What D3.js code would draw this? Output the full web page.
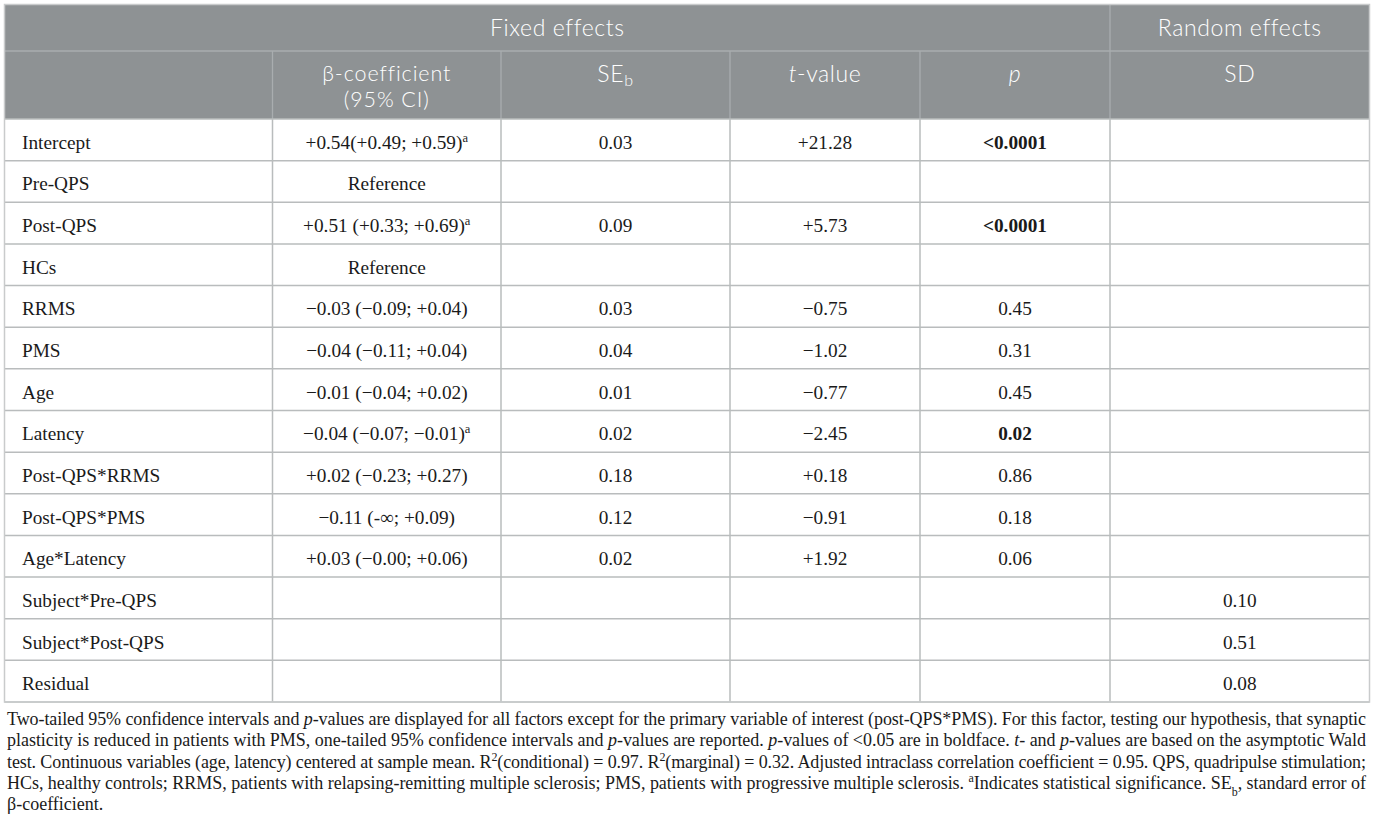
<!DOCTYPE html>
<html>
<head>
<meta charset="utf-8">
<script src="https://cdn.jsdelivr.net/npm/d3@7"></script>
<style>
body { margin: 0; background: #fff; }
svg { display: block; }
</style>
</head>
<body>
<svg id="tbl"></svg>
<script>
'use strict';

// Table content, row by row
var factors = ["Intercept", "Pre-QPS", "Post-QPS", "HCs", "RRMS", "PMS", "Age", "Latency",
    "Post-QPS*RRMS", "Post-QPS*PMS", "Age*Latency", "Subject*Pre-QPS", "Subject*Post-QPS", "Residual"];
var beta_ci = ["+0.54(+0.49; +0.59)", "Reference", "+0.51 (+0.33; +0.69)", "Reference",
    "\u22120.03 (\u22120.09; +0.04)", "\u22120.04 (\u22120.11; +0.04)", "\u22120.01 (\u22120.04; +0.02)",
    "\u22120.04 (\u22120.07; \u22120.01)", "+0.02 (\u22120.23; +0.27)", "\u22120.11 (-\u221e; +0.09)",
    "+0.03 (\u22120.00; +0.06)", "", "", ""];
var beta_significant = [true, false, true, false, false, false, false, true, false, false, false, false, false, false];
var se_b = ["0.03", "", "0.09", "", "0.03", "0.04", "0.01", "0.02", "0.18", "0.12", "0.02", "", "", ""];
var t_values = ["+21.28", "", "+5.73", "", "\u22120.75", "\u22121.02", "\u22120.77", "\u22122.45",
    "+0.18", "\u22120.91", "+1.92", "", "", ""];
var p_values = ["<0.0001", "", "<0.0001", "", "0.45", "0.31", "0.45", "0.02", "0.86", "0.18", "0.06", "", "", ""];
var p_bold = [true, false, true, false, false, false, false, true, false, false, false, false, false, false];
var random_sd = ["", "", "", "", "", "", "", "", "", "", "", "0.10", "0.51", "0.08"];

// Layout
var W = 1375, H = 834;
var col_edges = [4.5, 272.5, 501, 730, 920, 1110, 1369.5];
var head_top = 4.5, head_mid = 51, head_bottom = 119, body_bottom = 702;

var colors = {
    header_bg: "#8e9294",
    header_line: "#a9adaf",
    grid: "#b9bcbd",
    border: "#c9cbcc",
    header_text: "#ffffff",
    body_text: "#1a1a1a",
};

var sans = "Lato, 'Open Sans', sans-serif";
var serif = "'Liberation Serif', 'DejaVu Serif', serif";

var svg = d3.select("#tbl").attr("width", W).attr("height", H);

var y = d3.scaleBand()
          .domain(d3.range(factors.length))
          .range([head_bottom, body_bottom]);

function col_center(i) {
    return (col_edges[i] + col_edges[i + 1]) / 2;
}

// Header background
svg.append("rect")
   .attr("x", col_edges[0]).attr("y", head_top)
   .attr("width", col_edges[6] - col_edges[0])
   .attr("height", head_bottom - head_top)
   .attr("fill", colors.header_bg);

// Header lines
svg.append("line")
   .attr("x1", col_edges[0]).attr("x2", col_edges[6])
   .attr("y1", head_mid).attr("y2", head_mid)
   .attr("stroke", colors.header_line).attr("stroke-width", 1.3);
for (var i = 1; i < 6; i++) {
    svg.append("line")
       .attr("x1", col_edges[i]).attr("x2", col_edges[i])
       .attr("y1", i == 5 ? head_top : head_mid).attr("y2", head_bottom)
       .attr("stroke", colors.header_line).attr("stroke-width", 1.3);
}

// Body grid
svg.selectAll("line.row")
   .data(d3.range(factors.length + 1))
   .join("line")
   .attr("class", "row")
   .attr("x1", col_edges[0]).attr("x2", col_edges[6])
   .attr("y1", d => d < factors.length ? y(d) : body_bottom)
   .attr("y2", d => d < factors.length ? y(d) : body_bottom)
   .attr("stroke", colors.grid).attr("stroke-width", 1.5);

svg.selectAll("line.col")
   .data(col_edges.slice(1, 6))
   .join("line")
   .attr("class", "col")
   .attr("x1", d => d).attr("x2", d => d)
   .attr("y1", head_bottom).attr("y2", body_bottom)
   .attr("stroke", colors.grid).attr("stroke-width", 1.5);

// Outer border
svg.append("rect")
   .attr("x", col_edges[0]).attr("y", head_top)
   .attr("width", col_edges[6] - col_edges[0])
   .attr("height", body_bottom - head_top)
   .attr("fill", "none")
   .attr("stroke", colors.border).attr("stroke-width", 1.5);

// Header text
var head = svg.append("g")
              .attr("font-family", sans)
              .attr("font-size", 23)
              .attr("font-weight", 300)
              .attr("letter-spacing", 0.6)
              .attr("fill", colors.header_text)
              .attr("text-anchor", "middle");

head.append("text").attr("x", (col_edges[0] + col_edges[5]) / 2).attr("y", 36).text("Fixed effects");
head.append("text").attr("x", col_center(5)).attr("y", 36).text("Random effects");

// two-line header kept in one text element
var beta_head = head.append("text").attr("x", col_center(1)).attr("y", 81)
                    .attr("font-size", 21.5).attr("letter-spacing", 0.9);
beta_head.append("tspan").attr("x", col_center(1)).text("\u03b2-coefficient");
beta_head.append("tspan").attr("x", col_center(1)).attr("dy", 26).text("(95% CI)");

var se_head = head.append("text").attr("x", col_center(2)).attr("y", 82);
se_head.append("tspan").text("SE");
se_head.append("tspan").attr("font-size", 16).attr("baseline-shift", "-25%").text("b");

var t_head = head.append("text").attr("x", col_center(3)).attr("y", 82);
t_head.append("tspan").attr("font-style", "italic").text("t");
t_head.append("tspan").text("-value");

head.append("text").attr("x", col_center(4)).attr("y", 82)
    .attr("font-style", "italic").text("p");
head.append("text").attr("x", col_center(5)).attr("y", 82).text("SD");

// Body text
var body = svg.append("g")
              .attr("font-family", serif)
              .attr("font-size", 19.3)
              .attr("fill", colors.body_text);

var rows = body.selectAll("g.r")
               .data(factors.map((f, i) => i))
               .join("g")
               .attr("class", "r")
               .attr("transform", i => "translate(0," + (y(i) + y.bandwidth() / 2 + 9) + ")");

rows.append("text")
    .attr("x", 22)
    .text(i => factors[i]);

var beta_text = rows.append("text")
    .attr("x", col_center(1))
    .attr("text-anchor", "middle");
beta_text.append("tspan").text(i => beta_ci[i]);
beta_text.filter(i => beta_significant[i])
    .append("tspan")
    .attr("font-size", 12.5)
    .attr("baseline-shift", "super")
    .text("a");

rows.append("text")
    .attr("x", col_center(2))
    .attr("text-anchor", "middle")
    .text(i => se_b[i]);

rows.append("text")
    .attr("x", col_center(3))
    .attr("text-anchor", "middle")
    .text(i => t_values[i]);

rows.append("text")
    .attr("x", col_center(4))
    .attr("text-anchor", "middle")
    .attr("font-weight", i => p_bold[i] ? "bold" : "normal")
    .text(i => p_values[i]);

rows.append("text")
    .attr("x", col_center(5))
    .attr("text-anchor", "middle")
    .text(i => random_sd[i]);

// Footnote, one array of text pieces per line: [text, style]
var footnote_lines = [
    [["Two-tailed 95% confidence intervals and "], ["p", "i"], ["-values are displayed for all factors except for the primary variable of interest (post-QPS*PMS). For this factor, testing our hypothesis, that synaptic"]],
    [["plasticity is reduced in patients with PMS, one-tailed 95% confidence intervals and "], ["p", "i"], ["-values are reported. "], ["p", "i"], ["-values of <0.05 are in boldface. "], ["t", "i"], ["- and "], ["p", "i"], ["-values are based on the asymptotic Wald"]],
    [["test. Continuous variables (age, latency) centered at sample mean. R"], ["2", "sup"], ["(conditional) = 0.97. R"], ["2", "sup"], ["(marginal) = 0.32. Adjusted intraclass correlation coefficient = 0.95. QPS, quadripulse stimulation;"]],
    [["HCs, healthy controls; RRMS, patients with relapsing-remitting multiple sclerosis; PMS, patients with progressive multiple sclerosis. "], ["a", "sup"], ["Indicates statistical significance. SE"], ["b", "sub"], [", standard error of"]],
    [["\u03b2-coefficient."]],
];

var foot = svg.append("g")
              .attr("font-family", serif)
              .attr("font-size", 18)
              .attr("fill", colors.body_text);

footnote_lines.forEach(function(parts, li) {
    var t = foot.append("text")
                .attr("x", 7)
                .attr("y", 725 + li * 21.3);
    if (li < footnote_lines.length - 1) {
        t.attr("textLength", 1359).attr("lengthAdjust", "spacing");
    }
    parts.forEach(function(p) {
        var s = t.append("tspan").text(p[0]);
        if (p[1] == "i") s.attr("font-style", "italic");
        if (p[1] == "sup") s.attr("font-size", 12).attr("baseline-shift", "super");
        if (p[1] == "sub") s.attr("font-size", 12).attr("baseline-shift", "sub");
    });
});
</script>
</body>
</html>
